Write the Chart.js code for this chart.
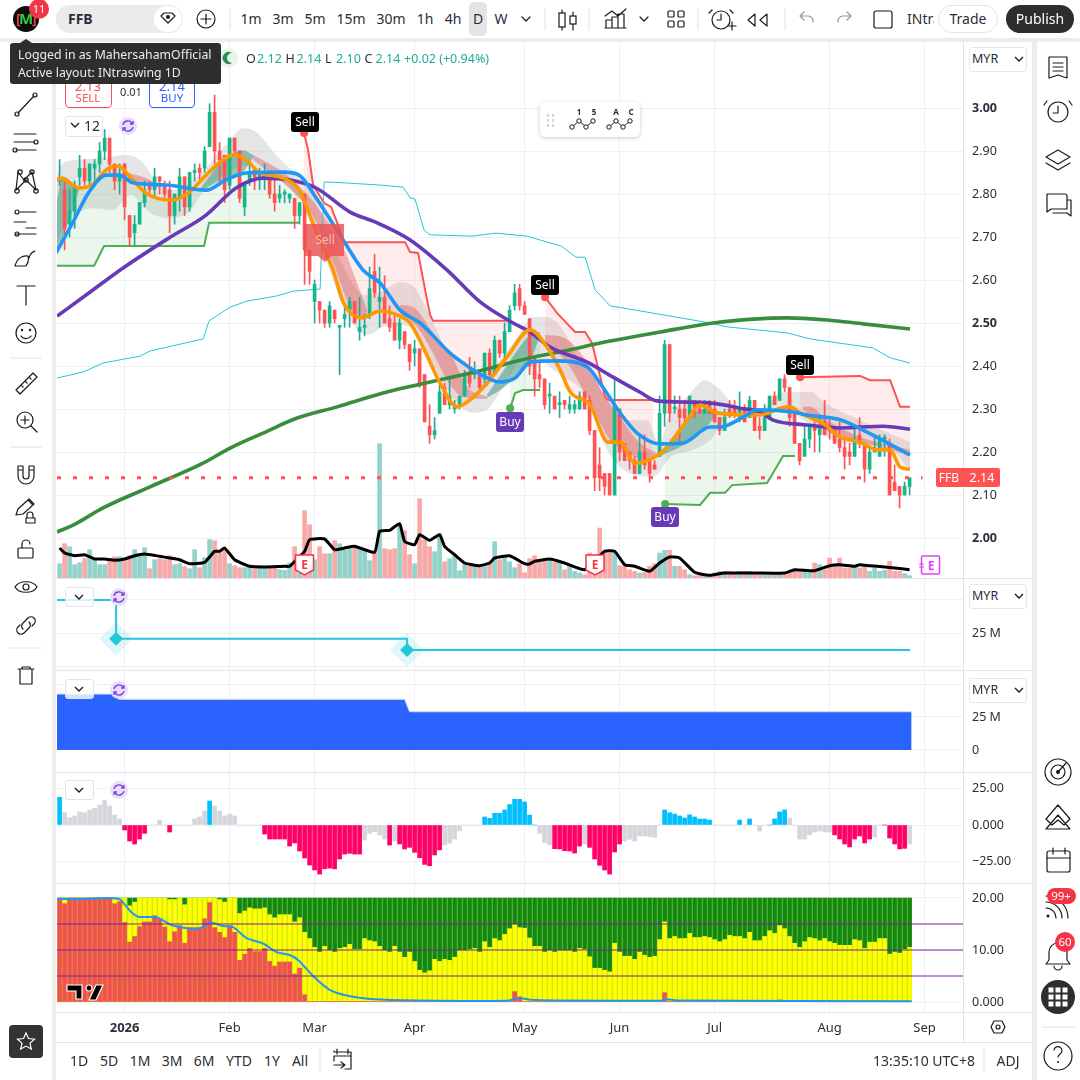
<!DOCTYPE html>
<html><head><meta charset="utf-8"><title>FFB</title>
<script src="https://cdn.jsdelivr.net/npm/chart.js@4"></script>
<style>
html,body{margin:0;padding:0;background:#fff;width:1080px;height:1080px;overflow:hidden;font-family:"Noto Sans",sans-serif;color:#131722}
canvas{position:absolute;left:57px;display:block}
.t{position:absolute;white-space:nowrap;z-index:6;line-height:1}
.c{transform:translate(-50%,-50%)}
.box{position:absolute;box-sizing:border-box;z-index:6}
#ov{position:absolute;left:0;top:0;z-index:7;pointer-events:none}
</style></head><body>
<div id="ws" style="position:absolute;left:0;top:0;width:1080px;height:1080px"></div>
<svg id="ov" width="1080" height="1080" viewBox="0 0 1080 1080"></svg>
<div id="ui"></div>
<script>
// ---------- candles, one per trading day (price, MYR) ----------
const open=[2.83,2.81,2.73,2.76,2.84,2.86,2.83,2.86,2.87,2.90,2.93,2.87,2.83,2.87,2.75,2.71,2.73,2.78,2.82,2.81,
2.84,2.82,2.81,2.75,2.79,2.84,2.77,2.85,2.86,2.86,2.91,2.99,2.90,2.89,2.82,2.93,2.90,2.77,2.83,2.86,
2.84,2.84,2.85,2.80,2.79,2.80,2.79,2.79,2.75,2.80,2.67,2.55,2.55,2.53,2.50,2.53,2.49,2.51,2.53,2.55,
2.48,2.49,2.52,2.62,2.55,2.56,2.51,2.50,2.46,2.48,2.45,2.43,2.44,2.38,2.26,2.24,2.29,2.35,2.31,2.30,
2.31,2.33,2.38,2.38,2.38,2.37,2.43,2.38,2.46,2.43,2.48,2.54,2.58,2.54,2.51,2.42,2.38,2.37,2.33,2.33,
2.31,2.32,2.30,2.30,2.30,2.34,2.32,2.25,2.17,2.15,2.15,2.10,2.30,2.22,2.20,2.18,2.15,2.20,2.18,2.17,
2.19,2.29,2.45,2.30,2.30,2.30,2.28,2.32,2.30,2.29,2.31,2.30,2.28,2.25,2.30,2.30,2.28,2.30,2.28,2.32,
2.26,2.25,2.28,2.33,2.32,2.37,2.35,2.29,2.22,2.19,2.23,2.26,2.24,2.27,2.26,2.25,2.23,2.21,2.20,2.19,
2.24,2.22,2.16,2.20,2.19,2.23,2.22,2.13,2.12,2.10,2.12];
const high=[2.88,2.83,2.81,2.83,2.89,2.88,2.87,2.88,2.92,2.95,2.93,2.87,2.87,2.87,2.75,2.75,2.78,2.83,2.83,2.86,
2.84,2.83,2.83,2.80,2.86,2.84,2.85,2.87,2.87,2.91,3.01,3.03,2.92,2.89,2.93,2.93,2.90,2.82,2.87,2.86,
2.86,2.87,2.85,2.84,2.82,2.81,2.80,2.79,2.78,2.80,2.67,2.60,2.55,2.53,2.55,2.53,2.49,2.54,2.56,2.55,
2.56,2.52,2.63,2.66,2.63,2.61,2.54,2.52,2.51,2.48,2.45,2.46,2.44,2.38,2.31,2.28,2.36,2.36,2.37,2.32,
2.33,2.39,2.42,2.41,2.38,2.43,2.44,2.47,2.46,2.50,2.54,2.59,2.59,2.55,2.51,2.42,2.41,2.37,2.36,2.33,
2.34,2.32,2.33,2.32,2.34,2.34,2.33,2.25,2.21,2.15,2.15,2.37,2.30,2.22,2.20,2.19,2.24,2.24,2.18,2.18,
2.33,2.46,2.45,2.33,2.33,2.32,2.33,2.32,2.32,2.32,2.32,2.32,2.28,2.30,2.32,2.32,2.34,2.31,2.33,2.32,
2.28,2.31,2.33,2.34,2.37,2.38,2.35,2.29,2.22,2.26,2.26,2.27,2.28,2.32,2.28,2.26,2.27,2.23,2.22,2.26,
2.28,2.22,2.21,2.24,2.24,2.24,2.23,2.17,2.12,2.13,2.14];
const low=[2.82,2.67,2.70,2.72,2.82,2.82,2.82,2.82,2.85,2.88,2.85,2.81,2.80,2.74,2.68,2.68,2.73,2.77,2.80,2.79,
2.80,2.79,2.71,2.73,2.76,2.75,2.76,2.83,2.83,2.85,2.91,2.87,2.83,2.78,2.81,2.89,2.78,2.75,2.82,2.81,
2.81,2.81,2.79,2.76,2.78,2.78,2.78,2.72,2.73,2.59,2.59,2.50,2.50,2.49,2.49,2.50,2.38,2.49,2.49,2.50,
2.46,2.47,2.51,2.56,2.49,2.50,2.48,2.46,2.44,2.44,2.39,2.40,2.35,2.27,2.22,2.23,2.29,2.31,2.30,2.29,
2.30,2.33,2.35,2.37,2.34,2.36,2.37,2.38,2.42,2.42,2.48,2.53,2.53,2.52,2.38,2.33,2.35,2.30,2.29,2.30,
2.28,2.30,2.29,2.29,2.30,2.30,2.24,2.11,2.11,2.10,2.10,2.10,2.18,2.18,2.16,2.15,2.15,2.16,2.13,2.16,
2.19,2.26,2.27,2.29,2.22,2.27,2.28,2.28,2.29,2.29,2.29,2.27,2.24,2.25,2.28,2.28,2.27,2.27,2.28,2.25,
2.23,2.25,2.28,2.31,2.32,2.34,2.26,2.22,2.17,2.19,2.21,2.20,2.20,2.24,2.23,2.22,2.20,2.16,2.17,2.19,
2.21,2.13,2.15,2.20,2.19,2.19,2.10,2.11,2.07,2.10,2.10];
const close=[2.83,2.72,2.76,2.82,2.86,2.83,2.87,2.87,2.90,2.93,2.87,2.83,2.84,2.77,2.70,2.73,2.78,2.81,2.81,2.84,
2.83,2.80,2.75,2.80,2.84,2.77,2.85,2.85,2.85,2.90,2.99,2.90,2.88,2.81,2.93,2.90,2.79,2.82,2.85,2.84,
2.85,2.85,2.80,2.78,2.80,2.80,2.80,2.75,2.78,2.67,2.62,2.59,2.53,2.50,2.54,2.51,2.49,2.52,2.55,2.50,
2.49,2.49,2.58,2.57,2.56,2.50,2.49,2.46,2.50,2.45,2.41,2.44,2.36,2.27,2.24,2.25,2.34,2.31,2.33,2.31,
2.33,2.38,2.36,2.39,2.35,2.43,2.38,2.46,2.43,2.48,2.53,2.57,2.54,2.52,2.40,2.37,2.37,2.31,2.33,2.30,
2.31,2.31,2.31,2.31,2.33,2.30,2.25,2.14,2.14,2.12,2.10,2.31,2.20,2.18,2.18,2.15,2.20,2.17,2.15,2.16,
2.29,2.45,2.29,2.30,2.28,2.28,2.33,2.29,2.29,2.30,2.29,2.27,2.25,2.28,2.29,2.29,2.30,2.27,2.32,2.25,
2.25,2.28,2.33,2.31,2.37,2.35,2.28,2.22,2.18,2.23,2.26,2.25,2.26,2.24,2.25,2.22,2.21,2.19,2.19,2.23,
2.22,2.16,2.20,2.21,2.23,2.23,2.10,2.11,2.10,2.12,2.14];
// volume (millions, drawn small along the pane floor)
const volume=[1.43,3.43,3.13,1.33,1.53,1.93,2.83,1.83,1.33,1.33,1.73,2.13,2.13,1.83,2.23,2.83,2.23,3.03,.93,1.83,
1.93,1.83,2.23,1.33,1.43,1.13,.93,2.83,1.03,2.03,3.83,3.73,2.53,2.93,1.43,1.23,1.03,1.03,1.03,.93,
.93,1.03,1.03,1.03,.83,.77,1.5,3.13,.5,6.73,5.33,1.83,3.13,2.43,2.43,3.73,3.43,2.83,2.93,3.13,
2.93,2.73,1.73,2.73,13.43,2.93,2.83,2.93,5.33,4.73,2.33,1.43,7.93,3.83,3.13,2.63,4.43,1.63,1.93,2.33,
.73,1.33,1.43,1.33,1.13,1.13,1.53,3.63,1.83,2.03,1.63,1.03,1.43,.53,1.93,2.23,1.83,1.67,1.9,1.57,
1.57,.83,1.33,.67,.5,.33,2.5,2.23,5,2.67,2.5,2.5,1.23,1.17,.83,.67,.5,.57,1.17,1.43,
2.5,2.77,2.77,1.17,1.17,.83,.33,.23,.5,.33,.23,.5,.67,.67,.67,.5,.67,.67,.67,.5,
.5,.5,.57,.5,.57,.5,.5,.9,.57,.67,.67,1.5,1.33,.83,2,1.17,2,1,1,1.17,
1,1.33,.67,1,.67,.77,1.67,.67,.67,.43,.23];
const volMaIdx=[0,1,3,5,7,9,11,13,15,17,20,22,24,26,29,31,32,33,35,38,41,45,46,49,50,53,55,57,59,63,64,66,68,69,71,72,74,76,77,79,81,84,86,87,90,93,94,95,98,101,105,109,111,113,115,118,120,122,124,127,130,133,139,145,147,151,154,156,159,160,162,165,167,170];
const volMaVal=[3,2.5,2.23,2.33,1.9,1.9,1.77,1.9,2.23,2.4,2.17,2,1.83,1.43,1.57,2.67,2.67,3,1.83,1.17,1.1,1.17,1.17,2.67,3.83,3.9,2.83,3,3.17,2.57,4.67,4.77,5.43,3.67,3.33,4.33,3.77,4.33,3.17,2.33,1.5,1.23,1.5,2,2.23,1.43,1.4,1.67,1.9,1.5,.83,2.67,2.67,1.33,1.17,.67,1.5,2.1,2,.57,.27,.5,.5,.5,.83,.73,1.23,1.33,1.17,1.33,1.23,1.1,1,.83];
// overlay lines on price
const blueIdx=[-.7,2.7,5.9,9.3,11.9,14.7,21.3,29.3,33.3,37.3,44.7,47.9,51.3,56.7,60.7,64.1,68.1,72.1,78.1,80.7,82.7,88.1,91.1,94.1,99.5,105.5,108.1,112.1,115.5,120.1,124.7,130.1,132.1,136.7,139.5,146.7,149.5,156.1,160.7,170.1];
const blueVal=[2.663,2.735,2.805,2.844,2.844,2.826,2.821,2.809,2.833,2.849,2.851,2.844,2.791,2.693,2.623,2.593,2.53,2.5,2.43,2.407,2.391,2.363,2.372,2.409,2.412,2.398,2.36,2.291,2.244,2.219,2.221,2.258,2.258,2.281,2.298,2.293,2.286,2.275,2.251,2.193];
const orangeIdx=[-.7,.3,3.9,6.7,9.3,11.7,14.3,17.3,22.3,25.7,29.3,31.9,34.7,37.3,39.9,44.7,47.9,51.3,54.7,56.7,60.5,64.1,67.5,70.1,72.7,76.1,79.5,81.5,85.5,89.5,94.1,97.5,100.1,102.1,106.1,109.7,112.1,115.1,119.7,121.5,125.5,128.1,131.5,140.1,144.1,146.1,148.1,153.1,156.1,160.1,163.5,166.1,168.1,170.1];
const orangeVal=[2.832,2.837,2.814,2.823,2.856,2.865,2.837,2.802,2.786,2.802,2.844,2.872,2.891,2.879,2.851,2.837,2.809,2.712,2.623,2.549,2.512,2.528,2.519,2.5,2.444,2.36,2.305,2.316,2.36,2.421,2.484,2.444,2.391,2.34,2.309,2.223,2.223,2.174,2.193,2.212,2.274,2.309,2.291,2.286,2.302,2.305,2.291,2.263,2.235,2.223,2.205,2.205,2.165,2.16];
const purpleIdx=[-.5,5.3,12.7,21.9,29.3,35.3,40.7,45.9,51.3,58.1,63.1,70.1,77.5,84.1,90.7,94.1,98.1,105.5,110.7,116.1,119.5,126.1,131.5,136.1,140.1,142.7,149.5,156.1,164.7,170.1];
const purpleVal=[2.516,2.565,2.628,2.698,2.751,2.814,2.837,2.833,2.814,2.758,2.735,2.693,2.623,2.549,2.5,2.479,2.444,2.409,2.374,2.339,2.319,2.316,2.312,2.302,2.293,2.274,2.263,2.256,2.26,2.253];
const ma200Idx=[-.5,2.7,8.7,18.1,28.7,34.1,40.7,47.5,55.5,64.7,71.5,84.7,94.1,100.1,110.1,120.1,130.7,138.7,145.5,153.5,160.7,170.1];
const ma200Val=[2.014,2.03,2.07,2.119,2.174,2.209,2.244,2.279,2.305,2.337,2.356,2.391,2.419,2.433,2.458,2.479,2.5,2.509,2.512,2.507,2.498,2.486];
const cyanIdx=[-.5,4.7,8.7,16.1,18.1,28.7,29.9,34.1,37.5,43.5,46.7,52.1,52.9,56.9,63.9,68.7,70.1,71.1,72.9,74.1,82.5,87.3,93.5,96.1,100.3,103.3,105.1,107.1,110.1,118.7,130.1,133.5,145.5,150.1,162.7,166.1,170.1];
const cyanVal=[2.372,2.386,2.407,2.423,2.435,2.463,2.505,2.537,2.551,2.563,2.574,2.579,2.828,2.826,2.821,2.816,2.791,2.788,2.716,2.705,2.702,2.709,2.702,2.693,2.679,2.653,2.653,2.577,2.54,2.523,2.5,2.491,2.477,2.463,2.442,2.419,2.407];
// trailing stops
const gStop1Idx=[-.7,6.9,8.9,28.9,29.9,47.9], gStop1Val=[2.633,2.633,2.679,2.679,2.733,2.733];
const rStop1Idx=[48.9,49.7,50.7,52.9,54.3,55.3,56.9,69.1,70.1,71.7,73.1,74.1,74.7,89.5], rStop1Val=[2.942,2.902,2.821,2.779,2.77,2.74,2.688,2.688,2.665,2.663,2.577,2.519,2.505,2.505];
const gStop2Idx=[90.1,91.1,92.7,96.1], gStop2Val=[2.302,2.337,2.344,2.344];
const rStop2Idx=[97.1,99.5,103.1,105.1,106.5,109.1,109.7,118.7], rStop2Val=[2.56,2.523,2.479,2.479,2.453,2.328,2.321,2.321];
const gStop3Idx=[121.1,128.1,130.1,133.1,134.5,141.5,144.7,147.1], gStop3Val=[2.079,2.077,2.105,2.105,2.123,2.128,2.191,2.191];
const rStop3Idx=[148.1,160.1,162.1,166.1,168.1,170.1], rStop3Val=[2.374,2.377,2.367,2.367,2.305,2.305];
// grey cloud
const cloudUpIdx=[-.7,.7,3.3,7.9,13.7,16.7,19.3,22.1,27.9,32.7,36.9,39.3,43.3,47.9,51.3,56.1,61.1,64.1,68.1,70.5,73.7,77.5,80.7,85.1,88.1,91.1,94.7,97.5,100.7,103.5,106.7,109.5,114.1,117.5,120.1,121.5,125.5,129.1,131.5,135.5,140.1,144.1,146.7,150.1,153.1,160.1,170.1];
const cloudUpVal=[2.844,2.872,2.879,2.884,2.891,2.872,2.828,2.809,2.844,2.907,2.953,2.944,2.891,2.837,2.781,2.647,2.565,2.572,2.595,2.588,2.526,2.437,2.407,2.38,2.414,2.46,2.514,2.514,2.484,2.421,2.374,2.321,2.274,2.274,2.216,2.274,2.328,2.367,2.351,2.305,2.298,2.337,2.34,2.34,2.314,2.274,2.223];
const cloudLoIdx=[-.7,3.1,6.7,10.7,14.1,17.9,21.3,25.9,28.7,32.7,36.7,41.3,45.9,50.7,54.7,58.1,61.5,64.7,68.1,70.7,74.1,79.5,82.7,85.5,88.7,93.5,100.1,105.1,107.5,109.5,114.7,118.7,122.1,126.7,130.7,132.7,141.5,146.1,150.1,154.7,160.1,165.1,170.1];
const cloudLoVal=[2.693,2.751,2.767,2.763,2.798,2.758,2.744,2.758,2.805,2.844,2.867,2.851,2.814,2.735,2.6,2.507,2.472,2.491,2.495,2.484,2.414,2.314,2.291,2.298,2.351,2.426,2.379,2.333,2.267,2.205,2.147,2.142,2.188,2.205,2.235,2.274,2.293,2.291,2.263,2.228,2.216,2.216,2.158];
// red ribbons [upper idx, upper val, lower idx, lower val]
const redRibbons=[
 [[13.9,17.3,19.1],[2.849,2.837,2.826],[13.9,15.9,19.1],[2.837,2.828,2.814]],
 [[38.7,44.7,48.7,51.3,56.7,59.5,61.5],[2.891,2.851,2.809,2.774,2.677,2.593,2.53],[38.7,41.9,47.3,51.3,54.7,58.7,61.5],[2.879,2.851,2.798,2.735,2.64,2.526,2.512]],
 [[68.1,70.7,74.7,78.1,81.5,85.5],[2.542,2.537,2.477,2.43,2.351,2.328],[68.1,71.5,74.7,77.5,80.7,85.5],[2.526,2.491,2.43,2.367,2.328,2.323]],
 [[97.1,100.7,105.5,108.7,112.1,116.1,120.1],[2.472,2.467,2.409,2.337,2.281,2.221,2.193],[97.1,101.5,106.1,110.1,112.7,117.1,120.1],[2.453,2.407,2.314,2.228,2.205,2.181,2.191]],
 [[146.7,150.1,153.5,160.1,170.1],[2.305,2.305,2.274,2.235,2.205],[148.7,154.7,160.7,170.1],[2.298,2.24,2.221,2.193]]];
const tealRibbons=[
 [[-.7,.7,3.9],[2.774,2.84,2.81],[-.7,2.1,3.9],[2.66,2.745,2.81]],
 [[27.9,32.7,36.7,38.7],[2.809,2.879,2.902,2.891],[27.9,32.7,36.7,38.7],[2.805,2.833,2.851,2.884]],
 [[85.5,89.5,94.1,96.1],[2.333,2.402,2.472,2.479],[85.5,88.1,91.1,94.1,96.1],[2.326,2.344,2.372,2.409,2.472]],
 [[120.1,121.5,125.5,128.7,131.5],[2.2,2.212,2.274,2.298,2.291],[120.1,124.7,128.7,131.5],[2.191,2.216,2.251,2.288]]];
const lastPrice=2.14;
const priceTicks=[3,2.9,2.8,2.7,2.6,2.5,2.4,2.3,2.2,2.1,2];
// time axis
const monthIdx=[13,34,51,71,93,112,131,154,173];
const monthNames=['2026','Feb','Mar','Apr','May','Jun','Jul','Aug','Sep'];
// pane 2: stepped level (M)
const stepIdx=[-.7,11.3,11.3,69.5,69.5,170.1], stepVal=[50,50,21,21,12.7,12.7];
const stepDotIdx=[11.3,69.5], stepDotVal=[21,12.7];
// pane 3: area level (M)
const areaIdx=[-.7,10.7,11.9,69,70,170.4], areaVal=[42.4,42.4,38.4,38.4,29,29];
// pane 4: momentum histogram
const momentum=[19,8.4,5,6.2,8.9,8.4,10.3,11.4,13.7,17,13,6.8,4.1,-3.4,-11,-13,-9.6,-5.7,0,0,
3.4,0,-4.8,0,0,0,0,4.1,5.5,9.6,16.4,13,9.6,6.2,7.5,6.2,0,0,0,0,
0,-6.2,-9.6,-9.6,-9.6,-9.6,-14.4,-12.3,-17.8,-22.6,-27.4,-30.8,-33.6,-30,-29.5,-30,-23.3,-19.9,-19.4,-19.9,
-19.9,-10.3,-5.7,-4.6,-6.8,-9.6,-13.7,-11,-13,-16.4,-15.3,-18.7,-22.4,-27,-27.9,-20.5,-17,-13.7,-12.5,-9.6,
-4,0,0,0,0,5.5,4.6,8,8,10.3,14,17.6,17.6,15.8,6.8,0,-5.7,-12,-13.5,-16.2,
-16.4,-17.6,-17.8,-19.2,-14.4,-13,-15.3,-23.3,-27.6,-30.8,-33.6,-18.5,-13,-11,-9.8,-11,-7.5,-7.5,-8,-8.4,
0,10.3,8.4,7.5,6.2,4.8,7,5.5,4.1,4.1,3.4,0,0,0,0,0,3.4,0,4.1,0,
-4.1,0,0,4.1,8.9,10.3,4.8,0,-9.6,-9.6,-6.8,-4.8,-4.1,-4.8,-4.8,-6.8,-9.6,-13,-15,-9.6,
-7.5,-12.3,-9.6,-8.2,0,0,-8.9,-13,-16.4,-16,-13];
const momentumKind=('b'+'g'.repeat(12)+'r'.repeat(5)+'gggg'+'r'+'g'.repeat(4)+'ggg'+'b'+'g'.repeat(10)+'r'.repeat(20)+'g'.repeat(5)+'r'+'g'+'r'.repeat(9)+'g'.repeat(8)+'b'.repeat(11)+'ggg'+'r'.repeat(6)+'g'+'r'.repeat(7)+'g'.repeat(8)+'b'.repeat(10)+'g'.repeat(5)+'bgb'+'ggg'+'bbbb'+'g'+'g'.repeat(8)+'r'.repeat(8)+'gg'+'r'.repeat(5)).split('');
// pane 5: stacked levels
const redLevel=[20,18.9,20,20,20,20,20,20,20,20,20,18.9,19.3,15.3,11.5,12.6,14.5,15.4,15.4,16.6,
16,14.4,11.6,13.5,14.7,11.3,14.3,14.3,14.3,16,19.1,14.3,13.4,12.4,14.7,13.4,8,9.2,10.3,9.7,
9.7,10.3,7.8,6.9,7.7,7.7,7.7,5.4,6.5,1.4,.1,.1,.1,.1,.1,.1,.1,.1,.1,.1,
.1,.1,.1,.1,.1,.1,.1,.1,.1,.1,.1,.1,.1,.1,.1,.1,.1,.1,.1,.1,
.1,.1,.1,.1,.1,.1,.1,.1,.1,.1,.1,2,1,.1,.1,.1,.1,.1,.1,.1,
.1,.1,.1,.1,.1,.1,.1,.1,.1,.1,.1,.1,.1,.1,.1,.1,.1,.1,.1,.1,
.1,1.8,.1,.1,.1,.1,.1,.1,.1,.1,.1,.1,.1,.1,.1,.1,.1,.1,.1,.1,
.1,.1,.1,.1,.4,.1,.1,.1,.1,.1,.1,.1,.1,.1,.1,.1,.1,.1,.1,.1,
.1,.1,.1,.1,.1,.1,.1,.1,.1,.1,.1];
const yellowLevel=[20,20,20,20,20,20,20,20,20,20,20,20,20,20,18.5,19.2,20,20,20,20,
20,20,19.7,19.7,20,18.7,20,20,20,20,20,20,19.7,19.2,20,20,17,17.5,18.1,17.9,
17.9,18.1,16.8,16.2,16.8,16.8,16.8,15.4,16.2,13.4,12.2,10.5,9.6,10.7,9.9,9.6,10.3,10.5,11.1,10.1,
10.1,12.2,11.8,11.6,10.7,9.9,9.6,10.7,9.6,8.6,9.6,7.8,6.1,5.6,6,8.2,7.8,8.2,8,8.6,
9.9,9.9,10.1,10.3,9.6,11.6,10.5,12.2,11.8,13,14.1,14.9,14.3,14.2,12.3,10.7,10.7,9.6,9.9,9.6,
9.9,9.9,9.9,9.6,10.3,10.1,8.7,6.5,6.5,6.1,5.8,11.3,9.6,8.8,8.8,8.2,9.6,9,8.6,8.8,
12,15.4,12.2,12.6,12.2,12.2,13.2,12.4,12.4,12.6,12.4,12,11.6,12,12.8,12.6,12.6,12.2,13.4,11.8,
11.8,12.6,13.7,13.2,14.7,14.1,12.6,11.3,10.5,11.6,12.4,12.2,11.8,12.2,11.6,11.3,10.9,10.9,10.9,12,
11.8,10.3,11.5,11.5,12.2,12.2,9.2,9.6,9.4,10.1,10.5];
const greenLevel=20;
const flowIdx=[-.7,4.7,10.1,12.1,14.1,15.7,19.4,22.4,25.4,28.1,30.1,32.8,34.7,37.4,40.8,43.4,46.1,47.8,50.8,54.1,58.1,62.1,71.4,89.4,92.1,94.1,99,120.3,121.4,123.4,170.4];
const flowVal=[19.8,19.8,20,19.7,17.5,16.4,16.3,14.8,14.2,14.2,15.3,14.6,14.4,12.3,11.2,9.6,9,8,4.9,2.3,1.1,.6,.3,.25,.7,.45,.3,.25,.55,.3,.13];
const levelLines=[15,10,5];

// ---------- shared scale settings ----------
const XMIN=-.52, XMAX=180.68, GRID='#eff0f3', AXIS='#e0e3eb', TXT='#2a2e39';
const pts=(xs,ys)=>xs.map((x,i)=>({x,y:ys[i]}));
const bars=(ys)=>ys.map((y,i)=>({x:i,y}));
const up=open.map((o,i)=>close[i]>=o);
const noPad=s=>{s.paddingTop=0;s.paddingBottom=0;s.paddingLeft=0;s.paddingRight=0};
function xScale(showLabels){
  return {type:'linear',min:XMIN,max:XMAX,offset:false,
    afterBuildTicks(s){s.ticks=monthIdx.map(v=>({value:v}))},
    afterFit(s){s.height=showLabels?30:0;noPad(s)},
    border:{display:false},
    grid:{color:GRID,offset:false,drawTicks:false,lineWidth:1},
    ticks:{display:showLabels,autoSkip:false,maxRotation:0,padding:8,color:TXT,
      font:c=>({family:'Noto Sans',size:13,weight:monthNames[monthIdx.indexOf(c.tick&&c.tick.value)]==='2026'?'700':'400'}),
      callback:v=>monthNames[monthIdx.indexOf(v)]||''}};
}
function yScale(min,max,ticks,fmt,bold){
  return {type:'linear',position:'right',min,max,
    afterBuildTicks(s){s.ticks=ticks.map(v=>({value:v}))},
    afterFit(s){s.width=67;noPad(s)},
    border:{display:true,color:AXIS},
    grid:{color:GRID,drawTicks:false,lineWidth:1},
    ticks:{autoSkip:false,padding:9,color:TXT,callback:fmt,
      font:c=>({family:'Noto Sans',size:12.5,weight:bold&&bold.includes(c.tick&&c.tick.value)?'700':'400'})}};
}
const baseOpts=(scales)=>({responsive:false,animation:false,events:[],devicePixelRatio:1,
  layout:{padding:0,autoPadding:false},
  plugins:{legend:{display:false},tooltip:{enabled:false}},scales});
function mk(top,h,datasets,scales){
  const c=document.createElement('canvas');c.width=973;c.height=h;
  c.style.top=top+'px';c.style.width='973px';c.style.height=h+'px';
  document.getElementById('ws').appendChild(c);
  return new Chart(c,{type:'bar',data:{datasets},options:baseOpts(scales)});
}
const lineDs=(xs,ys,o)=>Object.assign({type:'line',data:pts(xs,ys),pointRadius:0,borderWidth:0,borderColor:'transparent',tension:0,fill:false,yAxisID:'y',xAxisID:'x'},o);
const SMOOTH={cubicInterpolationMode:'monotone'};

// ---------- main pane ----------
const main=[];
const add=d=>{main.push(d);return main.length-1};
add({type:'bar',data:bars(volume),yAxisID:'v',grouped:false,barThickness:4,order:100,
  backgroundColor:up.map(u=>u?'#92d2ca':'#f7a9a7')});
add(lineDs(volMaIdx,volMaVal,{yAxisID:'v',borderColor:'#000',borderWidth:3,tension:.15,order:8}));
const orangeI=add(lineDs(orangeIdx,orangeVal,{borderColor:'#ff9800',borderWidth:3.6,order:22,...SMOOTH}));
const cloLo=add(lineDs(cloudLoIdx,cloudLoVal,{order:91,...SMOOTH}));
add(lineDs(cloudUpIdx,cloudUpVal,{order:90,...SMOOTH,fill:{target:cloLo,above:'rgba(186,186,186,.38)',below:'rgba(186,186,186,.38)'}}));
redRibbons.forEach(r=>{const lo=add(lineDs(r[2],r[3],{order:81,...SMOOTH}));
  add(lineDs(r[0],r[1],{order:80,...SMOOTH,fill:{target:lo,above:'rgba(214,60,60,.34)',below:'rgba(214,60,60,.34)'}}));});
tealRibbons.forEach(r=>{const lo=add(lineDs(r[2],r[3],{order:81,...SMOOTH}));
  add(lineDs(r[0],r[1],{order:80,...SMOOTH,fill:{target:lo,above:'rgba(30,130,115,.45)',below:'rgba(30,130,115,.45)'}}));});
const markerR=c=>c.dataIndex===0?4:0;
[[gStop1Idx,gStop1Val,0],[gStop2Idx,gStop2Val,1],[gStop3Idx,gStop3Val,1]].forEach(([a,b,m])=>{
  add(lineDs(a,b,{borderColor:'#4caf50',borderWidth:2,order:70,pointBackgroundColor:'#4caf50',pointBorderWidth:0,pointRadius:m?markerR:0,
    fill:{target:orangeI,above:'rgba(76,175,80,.11)',below:'rgba(76,175,80,.11)'}}));});
[rStop1Idx,rStop2Idx,rStop3Idx].forEach((a,k)=>{
  add(lineDs(a,[rStop1Val,rStop2Val,rStop3Val][k],{borderColor:'#ff5252',borderWidth:2,order:70,pointBackgroundColor:'#ff5252',pointBorderWidth:0,pointRadius:markerR,
    fill:{target:orangeI,above:'rgba(255,82,82,.11)',below:'rgba(255,82,82,.11)'}}));});
add(lineDs(cyanIdx,cyanVal,{borderColor:'#26c6da',borderWidth:1,order:60}));
add({type:'bar',data:low.map((l,i)=>({x:i,y:[l,high[i]]})),grouped:false,barThickness:1,order:52,
  backgroundColor:up.map(u=>u?'#26a69a':'#ff5252')});
add({type:'bar',data:open.map((o,i)=>({x:i,y:[o,close[i]]})),grouped:false,barThickness:3,minBarLength:2,order:51,
  backgroundColor:up.map(u=>u?'#14b886':'#ff5252')});
add(lineDs(ma200Idx,ma200Val,{borderColor:'#388e3c',borderWidth:3.6,order:40,...SMOOTH}));
add(lineDs(purpleIdx,purpleVal,{borderColor:'#673ab7',borderWidth:3.6,order:30,...SMOOTH}));
add(lineDs(blueIdx,blueVal,{borderColor:'#2196f3',borderWidth:3.6,order:20,...SMOOTH}));
add(lineDs([XMIN,172.6],[lastPrice,lastPrice],{borderColor:'#ff5252',borderWidth:3,borderDash:[4,12],order:9}));
mk(42,536,main,{x:xScale(false),
  y:yScale(1.907,3.1535,priceTicks,v=>v.toFixed(2),[3,2.5,2]),
  v:{display:false,min:0,max:53.6,type:'linear'}});

// ---------- pane 2 ----------
mk(579,91,[
  lineDs(stepDotIdx,stepDotVal,{pointStyle:'rectRot',pointRadius:7,pointBackgroundColor:'#26c6da',pointBorderWidth:0,order:1}),
  lineDs(stepIdx,stepVal,{borderColor:'#26c6da',borderWidth:2,order:2}),
  lineDs(stepDotIdx,stepDotVal,{pointStyle:'rectRot',pointRadius:17,pointBackgroundColor:'rgba(38,198,218,.15)',pointBorderWidth:0,order:3})
],{x:xScale(false),y:yScale(-2.24,65.67,[50,25,0],v=>v===25?'25 M':'')});

// ---------- pane 3 ----------
mk(671,101,[
  lineDs(areaIdx,areaVal,{borderColor:'#d4dcfa',borderWidth:1,fill:{target:{value:0},above:'#2b63ff',below:'#2b63ff'}})
],{x:xScale(false),y:yScale(-16.67,59.85,[50,25,0],v=>v===25?'25 M':(v===0?'0':''))});

// ---------- pane 4 ----------
const momColor={b:'#00bfff',g:'#d4d6dc',r:'#ff0066'};
mk(773,110,[
  {type:'bar',data:bars(momentum),grouped:false,barThickness:4,backgroundColor:momentum.map((v,i)=>momColor[momentumKind[i]||'g'])}
],{x:xScale(false),y:yScale(-39.7,35.6,[25,0,-25],v=>v===25?'25.00':v===0?'0.000':'\u221225.00')});

// ---------- pane 5 + time axis ----------
const idx=redLevel.map((_,i)=>i);
mk(884,158,[
  ...levelLines.map(v=>lineDs([XMIN,XMAX],[v,v],{borderColor:'#7b1fa2',borderWidth:1,order:1})),
  lineDs(flowIdx,flowVal,{borderColor:'#2196f3',borderWidth:2,tension:.2,order:2}),
  {type:'bar',data:bars(redLevel),grouped:false,barThickness:4,backgroundColor:'#ef5350',order:5},
  {type:'bar',data:bars(yellowLevel),grouped:false,barThickness:4,backgroundColor:'#ffff00',order:6},
  {type:'bar',data:idx.map(i=>({x:i,y:greenLevel})),grouped:false,barThickness:4,backgroundColor:'#138a07',order:7}
],{x:xScale(true),y:yScale(-1.92,22.69,[20,10,0],v=>v===20?'20.00':v===10?'10.00':'0.000')});

// ---------- interface chrome ----------
const ui=document.getElementById('ui'), ov=document.getElementById('ov');
let S='';
const txt=(s,x,y,size,o={})=>{const d=document.createElement('div');d.className='t'+(o.left?'':' c');d.textContent=s;
  d.style.cssText+=`left:${x}px;top:${y}px;font-size:${size}px;color:${o.color||TXT};font-weight:${o.w||400};`+(o.left?'transform:translateY(-50%);':'')+(o.z?`z-index:${o.z};`:'');ui.appendChild(d);return d};
const box=(x,y,w,h,st)=>{const d=document.createElement('div');d.className='box';d.style.cssText+=`left:${x}px;top:${y}px;width:${w}px;height:${h}px;${st}`;ui.appendChild(d);return d};
const strip=(x,y,w,h)=>box(x,y,w,h,'background:#ececec;z-index:4');
strip(0,38,1080,4);strip(52,38,4,1042);strip(1032,38,5,1042);
[578,670,772,883,1012,1042].forEach(y=>box(56,y,976,1,'background:#e0e3eb;z-index:4'));
box(963,1012,1,30,'background:#e0e3eb;z-index:4');
const st='fill="none" stroke="#1a1a1a" stroke-width="1.2" stroke-linecap="round" stroke-linejoin="round"';
const sv=s=>{S+=s};
const circ=(x,y,r,e='')=>`<circle cx="${x}" cy="${y}" r="${r}" ${e||st}/>`;
sv(`<circle cx="26" cy="19" r="13" fill="#0b0b0b"/><text x="26" y="24" text-anchor="middle" font-size="15" font-weight="700" fill="#2ecc40" font-family="Noto Sans">M</text>
<text x="16" y="24" font-size="14" fill="#f23645" font-family="Noto Sans" font-weight="700">[</text><text x="32" y="24" font-size="14" fill="#f23645" font-family="Noto Sans" font-weight="700">]</text>
<circle cx="39" cy="9" r="10" fill="#f23645"/><text x="39" y="13" text-anchor="middle" font-size="11" fill="#fff" font-family="Noto Sans">11</text>`);
box(56,5,127,28,'background:#ebebeb;border-radius:14px');
box(154,6,28,26,'background:#fff;border-radius:13px');
txt('FFB',68,19,14,{left:1,w:700});
sv(`<path d="M161 16 l3-3 h8 l3 3 l-7 7 z" ${st}/><circle cx="168" cy="17" r="2" fill="#1a1a1a"/>`);
sv(circ(206,19,9)+`<path d="M201 19h10M206 14v10" ${st}/>`);
box(469,2,18,34,'background:#e4e4e4;border-radius:5px');
[['1m',251],['3m',283],['5m',315],['15m',351],['30m',391],['1h',425],['4h',453],['D',478],['W',501]].forEach(([s,x])=>txt(s,x,19,14));
sv(`<path d="M522 17l4 4 4-4" ${st}/>`);
[230,545,589,698,785].forEach(x=>sv(`<path d="M${x} 8v22" stroke="#e0e3eb"/>`));
sv(`<path d="M562 10v20M573 12v18" ${st}/><rect x="559" y="13" width="6" height="14" fill="#fff" stroke="#1a1a1a" stroke-width="1.2"/><rect x="570" y="16" width="6" height="8" fill="#fff" stroke="#1a1a1a" stroke-width="1.2"/>`);
sv(`<path d="M605 16l7-5 6 5 8-7M606 28v-8h6v8M612 28v-11h6v11M618 28v-14h6v14M605 28h21" ${st}/><path d="M640 17l4 4 4-4" ${st}/>`);
sv(`<rect x="668" y="11" width="6" height="6" rx="1" ${st}/><rect x="678" y="11" width="6" height="6" rx="1" ${st}/><rect x="668" y="21" width="6" height="6" rx="1" ${st}/><rect x="678" y="21" width="6" height="6" rx="1" ${st}/>`);
sv(circ(721,20,9)+`<path d="M721 14v6h-4M712 10l-3 3M730 10l3 3M728 26h8M732 22v8" ${st}/>`);
sv(`<path d="M755 14l-7 6 7 6zM767 14l-7 6 7 6z" ${st}/>`);
const gr='fill="none" stroke="#9598a1" stroke-width="1.2" stroke-linecap="round" stroke-linejoin="round"';
sv(`<path d="M800 16h8a5 5 0 0 1 5 6M804 12l-4 4 4 4" ${gr}/><path d="M851 16h-8a5 5 0 0 0-5 6M847 12l4 4-4 4" ${gr}/>`);
sv(`<rect x="874" y="11" width="18" height="17" rx="2" ${st}/>`);
const intra=txt('INtra',907,19,14,{left:1});intra.style.width='27px';intra.style.overflow='hidden';intra.style.lineHeight='18px';
box(938,5,60,28,'border:1px solid #e6e6e6;border-radius:14px;background:#fff');txt('Trade',968,19,14);
box(1006,5,68,28,'background:#2e2e2e;border-radius:14px');txt('Publish',1040,19,14,{color:'#fff',z:7});
sv(`<circle cx="228" cy="58" r="10" fill="#e8f5e9"/><path d="M232 53a6 6 0 1 0 0 10a5 5 0 0 1 0-10z" fill="#2e8b57"/>`);
const OK='#22ab94';let lx=246;
[['O','2.12'],['H','2.14'],['L','2.10'],['C','2.14']].forEach(([a,b])=>{txt(a,lx,59,12.5,{left:1});txt(b,lx+11,59,12.5,{left:1,color:OK});lx+=39.5;});
txt('+0.02 (+0.94%)',404,59,12.5,{left:1,color:OK});
box(65,70,47,38,'border:1px solid #f7525f;border-radius:4px;background:#fff');
box(149,70,46,38,'border:1px solid #2962ff;border-radius:4px;background:#fff');
txt('2.13',88,86,13,{color:'#f7525f'});txt('SELL',88,98,11.5,{color:'#f7525f'});
txt('2.14',172,86,13,{color:'#2962ff'});txt('BUY',172,98,11.5,{color:'#2962ff'});
txt('0.01',131,91,11);
const chev=(x,y)=>sv(`<path d="M${x-4} ${y-2}l4 4 4-4" fill="none" stroke="#1a1a1a" stroke-width="1.3"/>`);
const refresh=(x,y)=>sv(`<circle cx="${x}" cy="${y}" r="9" fill="#e7e0f7"/><path d="M${x-5} ${y-1}a5 5 0 0 1 9-2M${x+5} ${y+1}a5 5 0 0 1-9 2M${x+5} ${y-5}v3h-3M${x-5} ${y+5}v-3h3" fill="none" stroke="#7c3aed" stroke-width="1.3"/>`);
box(65,116,38,21,'border:1px solid #e0e3eb;border-radius:3px;background:rgba(255,255,255,.85)');chev(75,125);txt('12',92,126,14);refresh(128,126);
[[587,597],[679,690],[780,790]].forEach(([y,c])=>{box(65,y,29,20,'border:1px solid #e0e3eb;border-radius:3px;background:rgba(255,255,255,.8)');chev(79,y+10);refresh(119,c);});
[[47,59],[584,596],[678,690]].forEach(([y,c])=>{box(969,y,58,25,'border:1px solid #e8e8ec;border-radius:3px;background:#fff');txt('MYR',972,c,12.5,{left:1});chev(1019,c);});
box(540,102,100,35,'background:#fff;border-radius:5px;box-shadow:0 1px 4px rgba(0,0,0,.2);z-index:4');
[[548,115],[553,115],[548,120],[553,120],[548,125],[553,125]].forEach(([x,y])=>sv(`<rect x="${x-1}" y="${y-1}" width="2" height="3" fill="#d1d4dc"/>`));
[[572,'1','5'],[609,'A','C']].forEach(([x,a,b])=>{sv(`<path d="M${x} 127l7-6 7 6 7-6" fill="none" stroke="#1a1a1a"/>`);[[0,127],[7,121],[14,127],[21,121]].forEach(([dx,y])=>sv(`<circle cx="${x+dx}" cy="${y}" r="2.2" fill="#fff" stroke="#1a1a1a"/>`));txt(a,x+7,112,8,{w:700});txt(b,x+22,112,8,{w:700});});
const pill=(s,x,y,bg)=>{box(x-14,y-10,28,20,`background:${bg};border-radius:3px`);txt(s,x,y,12,{color:'#fff',z:8});};
pill('Sell',305,122,'#000');pill('Sell',545,285,'#000');pill('Sell',800,365,'#000');
pill('Buy',510,422,'#673ab7');pill('Buy',665,517,'#673ab7');
sv(`<path d="M304 224h40v32h-12l-7 6-7-6h-14z" fill="rgba(236,80,80,.82)"/>`);txt('Sell',325,240,12,{color:'rgba(255,255,255,.55)',z:8});
[[304.5,565],[595,565]].forEach(([x,y])=>{sv(`<path d="M${x-9} ${y-10}h18v15l-9 5-9-5z" fill="#fff" stroke="#f23645" stroke-width="1.5"/>`);sv(`<text x="${x}" y="${y+4}" text-anchor="middle" font-size="12" font-weight="700" fill="#f23645" font-family="Noto Sans">E</text>`);});
sv(`<rect x="921.5" y="556" width="18" height="18" rx="1" fill="#fff" stroke="#e040fb" stroke-width="1.5"/><text x="931" y="569.5" text-anchor="middle" font-size="12" font-weight="700" fill="#e040fb" font-family="Noto Sans">E</text><path d="M919 564h5M919 567h5" stroke="#e040fb" stroke-width="1.2"/>`);
box(936,468,28,19,'background:#ff5252;border-radius:2px 0 0 2px');box(964,468,36,19,'background:#ff5252;border-radius:0 2px 2px 0');
txt('FFB',949,478,12,{color:'#fff',z:8});txt('2.14',982,478,12.5,{color:'#fff',z:8});
sv(`<path d="M67 985h15v14h-6v-8h-9zM89 985a3 3 0 1 1-.1 0zM96 985h7l-7 15h-7z" fill="#000" stroke="#fff" stroke-width="1.2"/>`);
sv(`<path d="M18 113l16-17" ${st}/>${circ(17,114,2)}${circ(35,95,2)}`);
sv(`<path d="M14 134h22M14 142h20M16 150h20" ${st}/>${circ(36,142,2)}${circ(15,150,2)}`);
sv(`<path d="M18 172l-2 18 10-10 10 10-4-18-8 8z" ${st}/>${circ(20,172,2.2)}${circ(32,172,2.2)}${circ(17,191,2.2)}${circ(36,191,2.2)}${circ(26,180,2.2)}`);
sv(`<path d="M20 212h16M14 222h12M26 228h10M16 234h20" ${st}/>${circ(17,212,2)}${circ(17,234,2)}`);
sv(`<path d="M15 266c2-8 8-11 13-10 1 3 0 7-2 10zM29 258c1-4 3-6 6-7" ${st}/>`);
sv(`<path d="M17 286h18M26 286v19" ${st}/>`);
sv(circ(26,333,10)+`<circle cx="22" cy="330" r="1.2" fill="#1a1a1a"/><circle cx="30" cy="330" r="1.2" fill="#1a1a1a"/><path d="M21 336a6 6 0 0 0 10 0" ${st}/>`);
sv(`<path d="M16 390l17-17 4 4-17 17zM21 385l2 2M25 381l2 2M29 377l2 2" ${st}/>`);
sv(circ(25,420,8)+`<path d="M31 426l6 6M21 420h8M25 416v8" ${st}/>`);
sv(`<path d="M18 466v10a8 8 0 0 0 16 0v-10h-5v10a3 3 0 0 1-6 0v-10zM18 470h5M29 470h5" ${st}/>`);
sv(`<path d="M16 515l2-6 11-10 5 5-11 10zM28 500l4 4M27 518v-3a3 3 0 0 1 6 0v3M26 518h9v5h-9z" ${st}/>`);
sv(`<rect x="18" y="548" width="15" height="10" rx="1" ${st}/><path d="M22 548v-4a4 4 0 0 1 8 0" ${st}/>`);
sv(`<path d="M15 587c4-7 18-7 22 0-4 7-18 7-22 0z" ${st}/>${circ(26,587,3)}`);
sv(`<path d="M23 629a4 4 0 0 1 0-6l5-5a4 4 0 0 1 6 6l-2 2M29 622a4 4 0 0 1 0 6l-5 5a4 4 0 0 1-6-6l2-2" ${st}/>`);
sv(`<path d="M18 669h16M22 669v-2h8v2M20 669v15h12v-15" ${st}/>`);
[358,447,648].forEach(y=>sv(`<path d="M10 ${y}h32" stroke="#e0e3eb"/>`));
box(9,1025,34,33,'background:#333;border-radius:4px');
sv(`<path d="M26 1033l2.5 5.5 6 .6-4.5 4 1.3 6-5.3-3-5.3 3 1.3-6-4.5-4 6-.6z" fill="none" stroke="#fff" stroke-width="1.2"/>`);
sv(`<path d="M1049 57h18v21l-9-3-9 3zM1053 63h10M1053 67h10M1053 71h10" ${st}/>`);
sv(circ(1058,112,10)+`<path d="M1058 106v7h-5M1047 101l-3 4M1069 101l3 4" ${st}/>`);
sv(`<path d="M1046 157l12-7 12 7-12 7zM1046 163l12 7 12-7" ${st}/>`);
sv(`<path d="M1047 194h18a2 2 0 0 1 2 2v13h-16l-4 3zM1067 200h4v16l-4-3h-14" ${st}/>`);
sv(circ(1058,772,13)+circ(1058,772,7)+`<circle cx="1058" cy="772" r="2" fill="#1a1a1a"/><path d="M1058 772l8-9" ${st}/>`);
sv(`<path d="M1058 805l12 14-6 6-6-5-6 5-6-6zM1046 829h24l-12-14-12 14" ${st}/>`);
sv(`<rect x="1047" y="851" width="23" height="21" rx="2" ${st}/><path d="M1047 858h23M1053 848v6M1065 848v6" ${st}/>`);
sv(`<path d="M1046 908a10 10 0 0 1 10 10M1046 902a16 16 0 0 1 16 16" ${st}/><circle cx="1048" cy="916" r="1.5" fill="#1a1a1a"/><path d="M1046 896a22 22 0 0 1 22 22" ${st}/>`);
sv(`<rect x="1047" y="888" width="29" height="16" rx="8" fill="#f23645"/><text x="1061" y="900" text-anchor="middle" font-size="11.5" fill="#fff" font-family="Noto Sans">99+</text>`);
sv(`<path d="M1049 960v-8a9 9 0 0 1 18 0v8l3 4h-24zM1054 966a4 4 0 0 0 8 0" ${st}/>`);
sv(`<circle cx="1065" cy="942" r="10" fill="#f23645"/><text x="1065" y="946" text-anchor="middle" font-size="11.5" fill="#fff" font-family="Noto Sans">60</text>`);
sv(`<circle cx="1058" cy="997" r="17" fill="#2e2e2e"/>`);
[-7,0,7].forEach(dx=>[-7,0,7].forEach(dy=>sv(`<rect x="${1058+dx-2.5}" y="${997+dy-2.5}" width="5" height="5" fill="#fff"/>`)));
sv(`<path d="M1042 1027h33" stroke="#e0e3eb"/>`);
sv(circ(1058,1056,14)+`<path d="M1054 1050a4 4 0 1 1 6 4c-1 1-2 2-2 3" ${st}/><circle cx="1058" cy="1062" r="1" fill="#1a1a1a"/>`);
sv(`<path d="M991 1027l3-6h8l3 6-3 6h-8z" ${st}/>${circ(998,1027,2)}`);
[['1D',79],['5D',109],['1M',140],['3M',172],['6M',204],['YTD',239],['1Y',272],['All',300]].forEach(([s,x])=>txt(s,x,1061,14));
sv(`<path d="M320 1048v24M984 1048v24" stroke="#e0e3eb"/>`);
sv(`<path d="M334 1056h17v-4h-17v-1M337 1049v5M348 1049v5M351 1056v13h-6M334 1065h11M341 1062l4 3-4 3M334 1056v5" ${st}/>`);
txt('13:35:10 UTC+8',924,1061,14);txt('ADJ',1008,1061,14);
ov.innerHTML=S+`<path d="M20 43l6-4 6 4z" fill="#2e2e2e"/>`;
box(10,43,211,41,'background:#2e2e2e;border-radius:3px;z-index:10');
txt('Logged in as MahersahamOfficial',18,55,12.3,{left:1,color:'#ececec',z:11});
txt('Active layout: INtraswing 1D',18,73,12.3,{left:1,color:'#ececec',z:11});
</script>
</body></html>
